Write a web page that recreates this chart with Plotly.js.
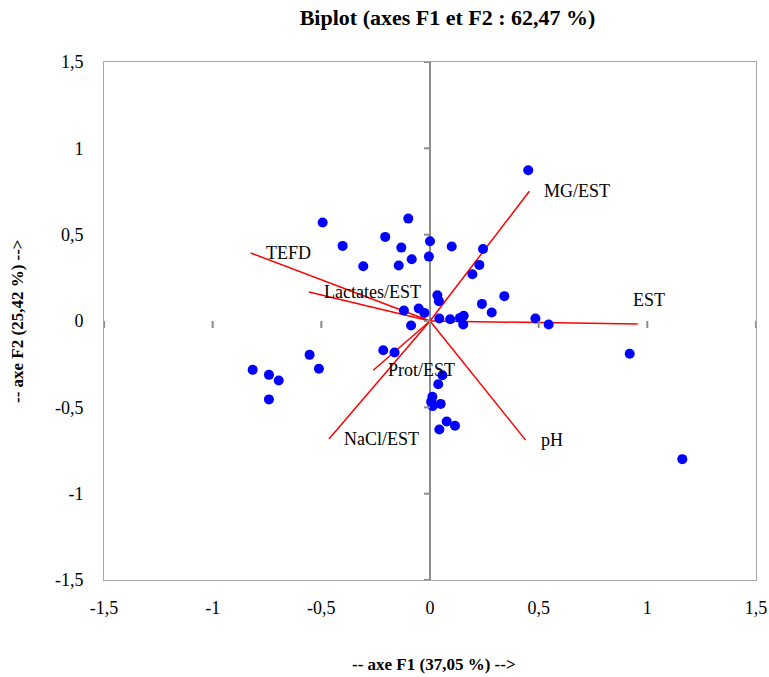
<!DOCTYPE html>
<html>
<head>
<meta charset="utf-8">
<script src="https://cdn.plot.ly/plotly-3.0.1.min.js"></script>
<style>html,body{margin:0;padding:0;background:#fff;}#chart{width:769px;height:677px;}</style>
</head>
<body>
<div id="chart"></div>
<script>
// Observations (F1, F2)
const obsF1 = [0.452,-0.494,-0.100,-0.402,-0.206,-0.132,0.000,0.100,0.244,-0.307,
  -0.144,-0.084,-0.005,0.227,0.195,0.034,0.041,0.342,0.239,0.284,
  -0.120,-0.052,-0.026,0.043,0.093,0.138,0.155,0.153,0.485,0.546,
  -0.087,0.919,1.161,-0.215,-0.163,-0.554,-0.511,-0.816,-0.741,-0.696,
  -0.741,0.057,0.038,0.011,0.005,0.012,0.049,0.077,0.115,0.043];
const obsF2 = [0.873,0.570,0.593,0.435,0.487,0.425,0.462,0.431,0.417,0.317,
  0.321,0.358,0.373,0.325,0.271,0.149,0.115,0.144,0.099,0.049,
  0.061,0.072,0.047,0.014,0.010,0.018,0.030,-0.020,0.014,-0.020,
  -0.026,-0.190,-0.800,-0.169,-0.182,-0.196,-0.277,-0.283,-0.312,-0.345,
  -0.454,-0.314,-0.366,-0.439,-0.468,-0.493,-0.480,-0.582,-0.607,-0.628];

// Variables (vectors)
const varNames = ["MG/EST","EST","pH","NaCl/EST","Prot/EST","TEFD","Lactates/EST"];
const varF1 = [0.457,0.956,0.440,-0.465,-0.261,-0.825,-0.557];
const varF2 = [0.751,-0.017,-0.690,-0.684,-0.285,0.394,0.168];

// Ticks
const tickVals = [-1.5,-1,-0.5,0,0.5,1,1.5];
const tickText = ["-1,5","-1","-0,5","0","0,5","1","1,5"];

const titleText = "Biplot (axes F1 et F2 : 62,47 %)";
const xTitleText = "-- axe F1 (37,05 %) -->";
const yTitleText = "-- axe F2 (25,42 %) -->";

const FONT = "'Liberation Serif', 'Times New Roman', serif";

// label offsets (pixels) for vector labels
const labelShift = {"EST": [-7, 24]};
const defaultShift = [13, 0];

const traces = [];
varNames.forEach((n, i) => {
  traces.push({
    type: 'scatter', mode: 'lines',
    x: [0, varF1[i]], y: [0, varF2[i]],
    line: {color: '#FF0000', width: 1.5},
    hoverinfo: 'skip', showlegend: false
  });
});
traces.push({
  type: 'scatter', mode: 'markers',
  x: obsF1, y: obsF2,
  marker: {color: '#0000FF', size: 10},
  showlegend: false
});

const annotations = varNames.map((n, i) => {
  const s = labelShift[n] || defaultShift;
  return {
    x: varF1[i], y: varF2[i], xref: 'x', yref: 'y',
    text: n, showarrow: false, xanchor: 'left', yanchor: 'middle',
    xshift: s[0], yshift: s[1],
    font: {family: FONT, size: 18, color: '#000'}
  };
});
annotations.push({
  xref: 'paper', yref: 'paper', x: 0.506, y: -0.164,
  text: xTitleText, showarrow: false, xanchor: 'center', yanchor: 'middle',
  font: {family: FONT, size: 17, color: '#000', weight: 'bold'}
});
annotations.push({
  xref: 'paper', yref: 'paper', x: -0.1334, y: 0.5,
  text: yTitleText, showarrow: false, textangle: -90, xanchor: 'center', yanchor: 'middle',
  font: {family: FONT, size: 17, color: '#000', weight: 'bold'}
});

const shapes = [];
tickVals.forEach(v => {
  shapes.push({type: 'line', xref: 'x', yref: 'y', ysizemode: 'pixel', yanchor: 0,
    x0: v, x1: v, y0: 0, y1: -7, line: {color: '#8c8c8c', width: 2}});
  shapes.push({type: 'line', xref: 'x', yref: 'y', xsizemode: 'pixel', xanchor: 0,
    x0: -6, x1: 0, y0: v, y1: v, line: {color: '#8c8c8c', width: 2}});
});

const layout = {
  width: 769, height: 677,
  margin: {l: 104, r: 13, t: 62, b: 97},
  paper_bgcolor: '#fff', plot_bgcolor: '#fff',
  showlegend: false,
  title: {
    text: '<b>' + titleText + '</b>',
    x: 0.582, xref: 'container', xanchor: 'center',
    y: 0.975, yref: 'container', yanchor: 'middle',
    font: {family: FONT, size: 22, color: '#000'}
  },
  xaxis: {
    range: [-1.5, 1.5], tickvals: tickVals, ticktext: tickText,
    showgrid: false, zeroline: true, zerolinecolor: '#8c8c8c', zerolinewidth: 2,
    showline: true, mirror: true, linecolor: '#a6a6a6', linewidth: 1,
    ticks: '', ticklabelstandoff: 11,
    tickfont: {family: FONT, size: 18, color: '#000'}
  },
  yaxis: {
    range: [-1.5, 1.5], tickvals: tickVals, ticktext: tickText,
    showgrid: false, zeroline: false,
    showline: true, mirror: true, linecolor: '#a6a6a6', linewidth: 1,
    ticks: '', ticklabelstandoff: 16,
    tickfont: {family: FONT, size: 18, color: '#000'}
  },
  shapes: shapes,
  annotations: annotations
};

Plotly.newPlot('chart', traces, layout, {displayModeBar: false, staticPlot: true});
</script>
</body>
</html>
